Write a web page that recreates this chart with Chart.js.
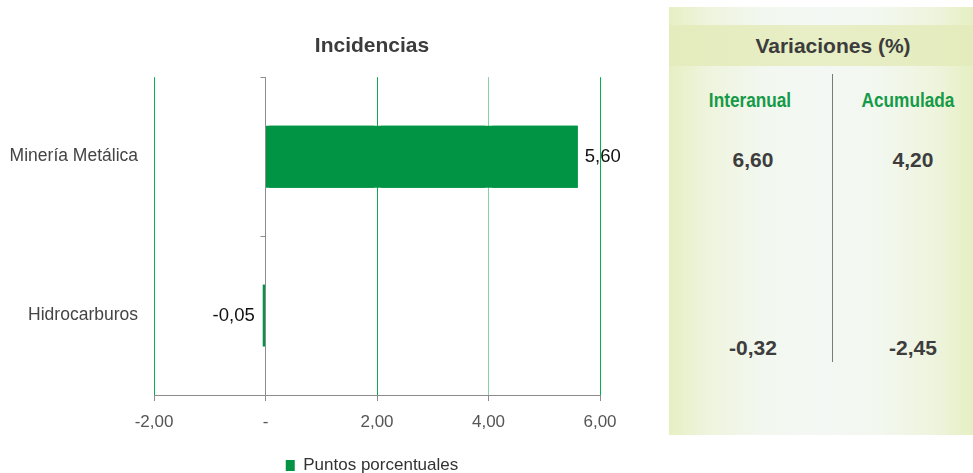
<!DOCTYPE html>
<html>
<head>
<meta charset="utf-8">
<script src="https://cdn.jsdelivr.net/npm/chart.js@4/dist/chart.umd.min.js"></script>
<style>
  body { margin: 0; background: #fff; font-family: 'Liberation Sans', Arial, sans-serif; }
  #wrap { position: relative; width: 973px; height: 473px; overflow: hidden; }
  #chartBox { position: absolute; left: 0; top: 0; width: 744px; height: 473px; }
  #panel {
    position: absolute; left: 669px; top: 7px; width: 304px; height: 428px;
    background: linear-gradient(to right, #e6efc3 0%, #eef4dc 12%, #f2f7ef 30%, #f3f8f4 50%, #f2f7ef 70%, #eef4dc 88%, #e6efc3 100%);
  }
  #panel .band {
    position: absolute; left: 0; top: 18px; width: 100%; height: 41px;
    background: linear-gradient(to right, #e4ecbd 0%, #e8eec6 50%, #e4ecbd 100%);
  }
  #panel .txt { position: absolute; transform: translate(-50%, -50%); white-space: nowrap; }
  #panel .txt.col { transform: translate(-50%, -50%) scaleX(0.82); }
  .head { font-weight: bold; font-size: 21px; color: #3c3c3c; }
  .col { font-weight: bold; font-size: 21px; color: #159a47; }
  .val { font-weight: bold; font-size: 21px; color: #3d3d3d; }
  #panel .div { position: absolute; left: 163px; top: 67px; width: 1px; height: 288px; background: #7a7a7a; }
</style>
</head>
<body>
<div id="wrap">
  <div id="chartBox"><canvas id="c" width="744" height="473"></canvas></div>
  <div id="panel">
    <div class="band"></div>
    <div class="div"></div>
  </div>
</div>
<script>
const categories = ['Minería Metálica', 'Hidrocarburos'];
const incidencias = [5.60, -0.05];
const xMin = -2, xMax = 6, xStep = 2;
const legendLabel = 'Puntos porcentuales';
const panelTitle = 'Variaciones (%)';
const panelCols = ['Interanual', 'Acumulada'];
const interanual = [6.60, -0.32];
const acumulada = [4.20, -2.45];

function fmt(v) {
  return v.toFixed(2).replace('.', ',');
}

// right panel (html text)
const panel = document.getElementById('panel');
function addText(cls, text, x, y) {
  const d = document.createElement('div');
  d.className = 'txt ' + cls;
  d.textContent = text;
  d.style.left = x + 'px';
  d.style.top = y + 'px';
  panel.appendChild(d);
}
addText('head', panelTitle, 164, 39);
addText('col', panelCols[0], 81, 93);
addText('col', panelCols[1], 239, 93);
const rowY = [153, 341];
interanual.forEach((v, i) => addText('val', fmt(v), 84, rowY[i]));
acumulada.forEach((v, i) => addText('val', fmt(v), 244, rowY[i]));

// grid colours by tick value
function gridColor(v) {
  if (v === 0) return '#8c8c8c';
  if (v === 4) return '#84d3a2';
  if (v === 2) return '#12a553';
  return '#00b050';
}

// after the bars: repaint the inner grid lines, then the bars again on top
const gridRepaint = {
  id: 'gridRepaint',
  afterDatasetsDraw(chart) {
    const ctx = chart.ctx;
    const xs = chart.scales.x;
    const a = chart.chartArea;
    ctx.save();
    xs.ticks.forEach(t => {
      if (t.value === xMin || t.value === xMax) return;
      const px = Math.round(xs.getPixelForValue(t.value) - 0.5) + 0.5;
      ctx.fillStyle = '#fff';
      ctx.fillRect(px - 3.5, a.top, 7, a.bottom - a.top);
      ctx.strokeStyle = gridColor(t.value);
      ctx.lineWidth = 1;
      ctx.beginPath();
      ctx.moveTo(px, a.top);
      ctx.lineTo(px, a.bottom);
      ctx.stroke();
    });
    ctx.restore();
    chart.getDatasetMeta(0).data.forEach(bar => bar.draw(ctx));
  }
};

const valueLabels = {
  id: 'valueLabels',
  afterDatasetsDraw(chart) {
    const ctx = chart.ctx;
    const meta = chart.getDatasetMeta(0);
    ctx.save();
    ctx.font = '18.5px "Liberation Sans", Arial';
    ctx.fillStyle = '#111';
    ctx.textBaseline = 'middle';
    meta.data.forEach((bar, i) => {
      const v = incidencias[i];
      if (v >= 0) {
        ctx.textAlign = 'left';
        ctx.fillText(fmt(v), bar.x + 7, bar.y);
      } else {
        ctx.textAlign = 'right';
        ctx.fillText(fmt(v), bar.x - 8, bar.y);
      }
    });
    ctx.restore();
  }
};

// small category ticks on the zero axis
const zeroTicks = {
  id: 'zeroTicks',
  afterDraw(chart) {
    const ctx = chart.ctx;
    const x0 = chart.scales.x.getPixelForValue(0);
    const ys = chart.scales.y;
    const a = chart.chartArea;
    const mids = [a.top];
    for (let i = 0; i < categories.length - 1; i++) {
      mids.push((ys.getPixelForValue(i) + ys.getPixelForValue(i + 1)) / 2);
    }
    ctx.save();
    ctx.strokeStyle = '#8c8c8c';
    ctx.lineWidth = 1;
    mids.forEach(y => {
      ctx.beginPath();
      ctx.moveTo(x0 - 5, Math.round(y) + 0.5);
      ctx.lineTo(x0, Math.round(y) + 0.5);
      ctx.stroke();
    });
    ctx.restore();
  }
};

new Chart(document.getElementById('c'), {
  type: 'bar',
  data: {
    labels: categories,
    datasets: [{
      label: legendLabel,
      data: incidencias,
      backgroundColor: '#009444',
      borderWidth: 0,
      barPercentage: 0.39,
      categoryPercentage: 1
    }]
  },
  options: {
    indexAxis: 'y',
    responsive: false,
    animation: false,
    layout: { padding: { top: 0, left: 0, right: 0, bottom: -11 } },
    plugins: {
      tooltip: { enabled: false },
      title: {
        display: true,
        text: 'Incidencias',
        color: '#3c3c3c',
        font: { family: '"Liberation Sans", Arial', size: 21, weight: 'bold' },
        padding: { top: 34, bottom: 18 }
      },
      legend: {
        position: 'bottom',
        labels: {
          color: '#333',
          font: { family: '"Liberation Sans", Arial', size: 17 },
          boxWidth: 9,
          boxHeight: 11,
          padding: 0
        }
      }
    },
    scales: {
      x: {
        min: xMin,
        max: xMax,
        ticks: {
          stepSize: xStep,
          color: '#555',
          font: { family: '"Liberation Sans", Arial', size: 17 },
          padding: 11,
          callback: v => v === 0 ? '-' : fmt(v)
        },
        grid: {
          color: c => gridColor(c.tick ? c.tick.value : null),
          tickColor: '#8c8c8c',
          tickLength: 6,
          lineWidth: 1
        },
        border: { display: true, color: '#8c8c8c', width: 1 },
        afterFit(scale) { scale.height = 62; }
      },
      y: {
        ticks: {
          color: '#444',
          font: { family: '"Liberation Sans", Arial', size: 17.5 },
          padding: 8
        },
        grid: { display: false },
        border: { display: false },
        afterFit(scale) { scale.width = 154; }
      },
      // empty right-hand axis so the title and legend centre over the plot, not the canvas
      yRight: {
        position: 'right',
        type: 'linear',
        display: true,
        ticks: { display: false },
        grid: { display: false },
        border: { display: false },
        afterFit(scale) { scale.width = 144; }
      }
    }
  },
  plugins: [gridRepaint, valueLabels, zeroTicks]
});
</script>
</body>
</html>
